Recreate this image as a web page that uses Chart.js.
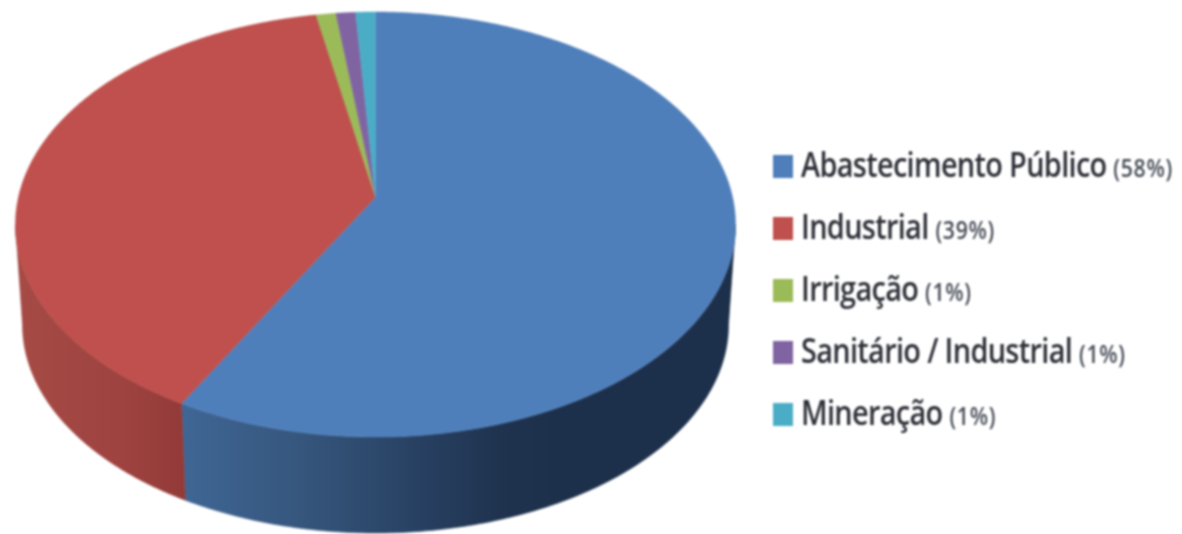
<!DOCTYPE html>
<html lang="pt">
<head>
<meta charset="utf-8">
<title>Usos da água</title>
<script src="https://cdn.jsdelivr.net/npm/chart.js@4"></script>
<style>
    html, body { margin: 0; padding: 0; background: #fff; }
    #wrap { position: relative; width: 1182px; height: 534px; overflow: hidden; }
    #chart { position: absolute; left: 0; top: 0; filter: blur(0.8px); }
    #legend { position: absolute; left: 0; top: 0; filter: blur(0.8px); }
    .swatch { position: absolute; left: 773px; width: 20px; height: 23px; }
    .label {
        position: absolute; left: 801px; white-space: nowrap; color: #2e3038;
        font-family: "Open Sans", sans-serif; font-size: 34px; font-weight: 600; line-height: 36px;
        transform-origin: left center; letter-spacing: -0.8px;
    }
    .label small { font-size: 25px; letter-spacing: 0.8px; color: #464c56; }
</style>
</head>
<body>
<div id="wrap">
    <canvas id="chart" width="1182" height="534"></canvas>
    <div id="legend"></div>
</div>
<script>
    // Data
    const categories = ['Abastecimento Público', 'Industrial', 'Irrigação', 'Sanitário / Industrial', 'Mineração'];
    const shares = [58, 39, 1, 1, 1];

    // Office palette, top face
    const faceColors = ['#4f7fbb', '#bf504d', '#9bbb59', '#8064a2', '#4bacc6'];
    // Side wall shading as [x, colour] stops. Only the two front slices show a wall.
    const wallStops = [
        [[185, '#3f6694'], [300, '#36567d'], [400, '#2a4466'], [500, '#1f334f'], [560, '#1d304b']],
        [[22, '#a64a45'], [120, '#9e4340'], [185, '#933a38']],
        [[0, '#7c9647']],
        [[0, '#665082']],
        [[0, '#3c8a9e']]
    ];

    // Perspective of the disc: rim of the top face and rim of the base
    const topRim = { k: 357, a: 183.45, b: 197 };
    const baseRim = { k: 350, a: 166, b: 298 };
    const tilt = -0.1294;

    // Angles where the rim turns away from the viewer; the wall only exists between them
    const frontFrom = Math.asin(-tilt);
    const frontTo = Math.PI - frontFrom;

    function project(rim, cx, angle, r = 1) {
        const u = r * Math.cos(angle);
        const v = r * Math.sin(angle);
        const w = 1 + tilt * v;
        return { x: cx + rim.k * u / w, y: (rim.a * v + rim.b) / w };
    }

    function rimPath(ctx, rim, cx, from, to) {
        const steps = Math.max(2, Math.ceil(Math.abs(to - from) / 0.01));
        for (let i = 0; i <= steps; i++) {
            const p = project(rim, cx, from + (to - from) * i / steps);
            ctx.lineTo(p.x, p.y);
        }
    }

    // Paints the library's arcs as a tilted 3D disc
    const tiltedDisc = {
        id: 'tiltedDisc',
        beforeDatasetDraw(chart, args) {
            const ctx = chart.ctx;
            const arcs = args.meta.data;

            arcs.forEach((arc, i) => {
                const from = Math.max(arc.startAngle, frontFrom);
                const to = Math.min(arc.endAngle, frontTo);
                if (to <= from) return;

                const stops = wallStops[i];
                const x0 = stops[0][0];
                const x1 = stops[stops.length - 1][0];
                const grad = ctx.createLinearGradient(x0, 0, x1, 0);
                stops.forEach(s => grad.addColorStop((s[0] - x0) / (x1 - x0), s[1]));

                ctx.fillStyle = grad;
                ctx.strokeStyle = grad;
                ctx.lineWidth = 0.6;
                ctx.beginPath();
                rimPath(ctx, topRim, arc.x, from, to);
                rimPath(ctx, baseRim, arc.x, to, from);
                ctx.closePath();
                ctx.fill();
                ctx.stroke();
            });

            arcs.forEach((arc, i) => {
                const apex = project(topRim, arc.x, 0, 0);
                ctx.fillStyle = faceColors[i];
                ctx.strokeStyle = faceColors[i];
                ctx.lineWidth = 0.5;
                ctx.beginPath();
                ctx.moveTo(apex.x, apex.y);
                rimPath(ctx, topRim, arc.x, arc.startAngle, arc.endAngle);
                ctx.closePath();
                ctx.fill();
                ctx.stroke();
            });

            return false;
        }
    };

    new Chart(document.getElementById('chart'), {
        type: 'pie',
        data: {
            labels: categories,
            datasets: [{ data: shares, backgroundColor: faceColors, borderWidth: 0 }]
        },
        options: {
            responsive: false,
            animation: false,
            layout: { padding: { left: 15.5, right: 446.5, top: 12, bottom: 97 } },
            plugins: { legend: { display: false }, tooltip: { enabled: false } }
        },
        plugins: [tiltedDisc]
    });

    // Legend: two type sizes per row, so it is plain HTML
    const legend = document.getElementById('legend');
    const legendTop = 155;
    const legendStep = 62;
    categories.forEach((name, i) => {
        const y = legendTop + legendStep * i;
        const swatch = document.createElement('div');
        swatch.className = 'swatch';
        swatch.style.top = y + 'px';
        swatch.style.background = faceColors[i];
        legend.appendChild(swatch);

        const label = document.createElement('div');
        label.className = 'label';
        label.style.top = (y - 9) + 'px';
        label.style.transform = 'scaleX(0.85)';
        label.innerHTML = name + ' <small>(' + shares[i] + '%)</small>';
        legend.appendChild(label);
    });
</script>
</body>
</html>
